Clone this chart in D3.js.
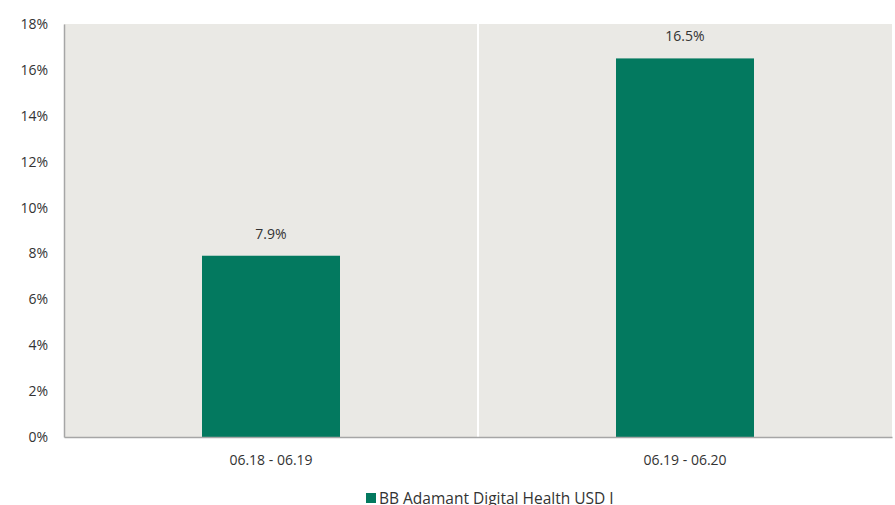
<!DOCTYPE html>
<html>
<head>
<meta charset="utf-8">
<script src="https://cdn.jsdelivr.net/npm/d3@7"></script>
<style>
  body { margin: 0; background: #fff; }
  svg text { font-family: "Open Sans", "Noto Sans", sans-serif; fill: #333; }
</style>
</head>
<body>
<div id="chart"></div>
<script>
// data
var periods = ["06.18 - 06.19", "06.19 - 06.20"];
var returns = [7.9, 16.5];
var yTicks = [0, 2, 4, 6, 8, 10, 12, 14, 16, 18];
var seriesName = "BB Adamant Digital Health USD I";

var width = 895, height = 505;
var margin = { top: 24, right: 3, bottom: 68, left: 64 };

var svg = d3.select("#chart").append("svg")
  .attr("width", width)
  .attr("height", height);

var x = d3.scaleBand()
  .domain(periods)
  .range([margin.left, width - margin.right]);

var y = d3.scaleLinear()
  .domain([0, 18])
  .range([height - margin.bottom, margin.top]);

// plot background
svg.append("rect")
  .attr("x", margin.left)
  .attr("y", margin.top)
  .attr("width", width - margin.left - margin.right)
  .attr("height", y(0) - margin.top)
  .attr("fill", "#eae9e5");

// white divider between categories
periods.slice(1).forEach(function(p) {
  svg.append("line")
    .attr("x1", x(p)).attr("x2", x(p))
    .attr("y1", margin.top).attr("y2", y(0))
    .attr("stroke", "#fff")
    .attr("stroke-width", 2);
});

// bars
var barW = x.bandwidth() / 3;
svg.selectAll(".bar")
  .data(returns)
  .enter().append("rect")
  .attr("class", "bar")
  .attr("x", function(d, i) { return x(periods[i]) + (x.bandwidth() - barW) / 2; })
  .attr("y", function(d) { return y(d); })
  .attr("width", barW)
  .attr("height", function(d) { return y(0) - y(d); })
  .attr("fill", "#03795f");

// value labels
svg.selectAll(".val")
  .data(returns)
  .enter().append("text")
  .attr("class", "val")
  .attr("x", function(d, i) { return x(periods[i]) + x.bandwidth() / 2; })
  .attr("y", function(d) { return y(d) - 17; })
  .attr("text-anchor", "middle")
  .style("font-size", "14px")
  .text(function(d) { return d.toFixed(1) + "%"; });

// y axis
var yAxis = svg.append("g")
  .attr("transform", "translate(" + margin.left + ",0)")
  .call(d3.axisLeft(y).tickValues(yTicks).tickSize(0).tickPadding(16)
    .tickFormat(function(d) { return d + "%"; }));
yAxis.select(".domain").attr("stroke", "#a6a6a6").attr("stroke-width", 1.5);
yAxis.selectAll("text").style("font-size", "14px").attr("fill", "#333");

// x axis
var xAxis = svg.append("g")
  .attr("transform", "translate(0," + y(0) + ")")
  .call(d3.axisBottom(x).tickSize(0).tickPadding(18));
xAxis.select(".domain").attr("stroke", "#a6a6a6").attr("stroke-width", 1.5);
xAxis.selectAll("text").style("font-size", "14px").attr("fill", "#333");

// legend
var legend = svg.append("g").attr("transform", "translate(366,493)");
legend.append("rect")
  .attr("width", 10).attr("height", 10)
  .attr("fill", "#03795f");
legend.append("text")
  .attr("x", 13).attr("y", 11)
  .style("font-size", "15.5px")
  .text(seriesName);
</script>
</body>
</html>
